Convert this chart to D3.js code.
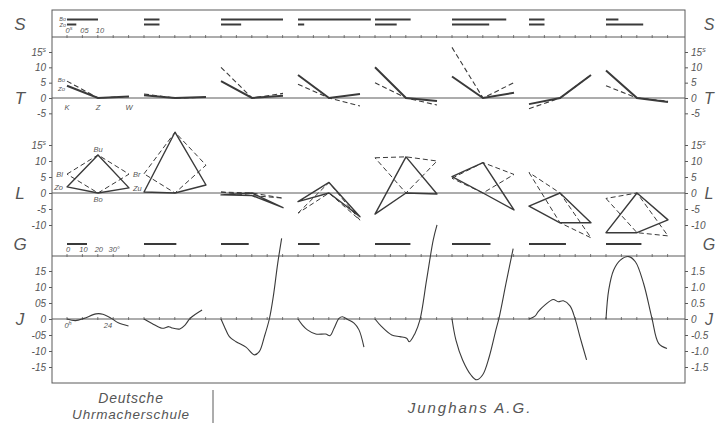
<!DOCTYPE html>
<html>
<head>
<meta charset="utf-8">
<script src="https://cdn.jsdelivr.net/npm/d3@7"></script>
<style>
  body { margin: 0; background: #fff; }
  text { font-family: "Liberation Sans", Arial, sans-serif; fill: #555; }
</style>
</head>
<body>
<script>
// eight watches: first two Deutsche Uhrmacherschule, the rest Junghans A.G.
const groups = [0, 1, 2, 3, 4, 5, 6, 7];

// S row: bar lengths in seconds (Bo upper, Zo lower)
const sBo = [1.0, 0.5, 2.0, 2.35, 1.15, 1.75, 0.5, 0.4];
const sZo = [0.3, 0.5, 0.65, 0.2, 0.7, 1.2, 0.5, 1.2];

// T panel: rate at K, Z, W (Bo dashed, Zo solid)
const tempPoints = ["K", "Z", "W"];
const tBo = [
  [5.5, 0, 0.5], [1.3, 0, 0.2], [10, 0, 1.5], [4.5, 0, -2.6],
  [5, 0, -2.3], [16.5, 0, 5], [-3.5, 0, 7.5], [4, 0, -1],
];
const tZo = [
  [4, 0, 0.5], [0.9, 0, 0.3], [5.5, 0, 0.7], [7.5, 0, 1.3],
  [10, 0, -1], [7, 0, 1.7], [-2, 0, 7.5], [9, 0, -1.3],
];

// L panel: position errors
const lPoints = ["left", "mid", "right"];
const lBo = [0, 0, 0, 0, 0, 0, 0, 0];
const lBu = [11.9, 19, -0.8, 3.3, 11.3, 9.5, -9.3, -12.4];
const lZo = [1.9, 0.3, -0.6, -2.7, -6.6, 5.1, -4.1, -12.4];
const lZu = [1.6, 2.5, -4.6, -7.4, -0.3, -5.3, -9.3, -8.4];
const lBl = [5.9, 6, 0.3, -6.3, 11, 4.6, 6.4, -1.7];
const lBr = [5.9, 8.7, -1.6, -8.5, 10, 5.8, -14, -13.4];

// G row: degrees
const gDeg = [13, 21, 18, 14, 23, 25, 24, 23];

// J panel: rate over running time (hours)
const jHours = [
  [0, 5, 10, 17, 21, 26, 30, 36],
  [0, 4.7, 10.5, 14.6, 16.4, 21, 24, 27, 34],
  [0, 2, 4.9, 8.8, 14.6, 19.5, 22.4, 25.4, 28.3, 30.6, 33.2, 35.5],
  [0, 2.6, 5.5, 10.4, 16.2, 18.7, 21.1, 24, 26, 28.9, 32.8, 35.7, 38.6],
  [0, 3.9, 9.8, 14.6, 18.5, 20.1, 23.4, 26.3, 30.2, 34.1, 36.3],
  [0, 2.3, 6.2, 11.1, 14.4, 17.9, 21.8, 25.7, 27.7, 31.6, 35.8],
  [0, 3.5, 5.4, 9.4, 14.2, 17.1, 20.1, 24, 26.9, 29.8, 33.7],
  [0, 1.6, 4.5, 8.4, 13.3, 17.2, 22, 26.9, 30.8, 35.7],
];
const jRate = [
  [0, -0.05, 0.02, 0.16, 0.15, 0.02, -0.12, -0.22],
  [0, -0.14, -0.29, -0.24, -0.28, -0.31, -0.19, 0.02, 0.28],
  [0, -0.24, -0.55, -0.71, -0.88, -1.12, -1.02, -0.55, 0, 0.7, 1.74, 2.52],
  [0, -0.19, -0.34, -0.47, -0.47, -0.52, -0.29, 0.02, 0.07, -0.01, -0.13, -0.34, -0.88],
  [0, -0.24, -0.5, -0.55, -0.6, -0.71, -0.45, -0.03, 1.22, 2.47, 2.94],
  [0, -0.66, -1.28, -1.75, -1.9, -1.75, -1.18, -0.34, 0.07, 1.11, 2.2],
  [0, 0.09, 0.23, 0.44, 0.61, 0.54, 0.57, 0.41, 0.02, -0.55, -1.28],
  [0, 0.91, 1.53, 1.84, 1.95, 1.79, 1.11, 0.02, -0.76, -0.92],
];

// tick values and labels
const tTicks = [15, 10, 5, 0, -5];
const lTicks = [15, 10, 5, 0, -5, -10];
const jTicks = [1.5, 1, 0.5, 0, -0.5, -1, -1.5];
const sLegend = [0, 0.5, 1];
const sLegendLabels = ["0", "05", "10"];
const gLegend = [0, 10, 20, 30];
const gLegendLabels = ["0", "10", "20", "30°"];
const lLabels = { Bu: "Bu", Bo: "Bo", Bl: "Bl", Br: "Br", Zo: "Zo", Zu: "Zu" };

// canvas
const width = 717;
const height = 423;
const padL = 52;
const padR = 685;
const padT = 10;
const padB = 383;
const sepS = 37;
const sepG = 256;
const ink = "#3a3a3a";
const frame = "#5a5a5a";

const svg = d3
  .select("body")
  .append("svg")
  .attr("width", width)
  .attr("height", height);

// scales
const groupX = d3.scaleLinear().domain([0, 1]).range([67, 144]);
const sX = d3.scaleLinear().domain([0, 1]).range([0, 31]);
const tX = d3.scalePoint().domain(tempPoints).range([0, 62]);
const lX = d3.scalePoint().domain(lPoints).range([0, 62]);
const gX = d3.scaleLinear().domain([0, 10]).range([0, 15.4]);
const jX = d3.scaleLinear().domain([0, 24]).range([0, 41]);
const tY = d3.scaleLinear().domain([0, 15]).range([98, 52]);
const lY = d3.scaleLinear().domain([0, 15]).range([193, 145]);
const jY = d3.scaleLinear().domain([0, 1.5]).range([319, 271]);

// frame and horizontal lines
svg
  .append("rect")
  .attr("x", padL)
  .attr("y", padT)
  .attr("width", padR - padL)
  .attr("height", padB - padT)
  .attr("fill", "none")
  .attr("stroke", frame)
  .attr("stroke-width", 1);

[sepS, sepG, tY(0), lY(0), jY(0)].forEach(function (y) {
  svg
    .append("line")
    .attr("x1", padL)
    .attr("x2", padR)
    .attr("y1", y)
    .attr("y2", y)
    .attr("stroke", frame)
    .attr("stroke-width", 1);
});

// little ticks on the separators
const sepTicks = d3.range(0, 40).map((k) => groupX(0) + k * 15.4);
[sepS, sepG, jY(0)].forEach(function (y) {
  svg
    .append("g")
    .selectAll("line")
    .data(sepTicks)
    .enter()
    .append("line")
    .attr("x1", (d) => d)
    .attr("x2", (d) => d)
    .attr("y1", y - 2)
    .attr("y2", y + 1)
    .attr("stroke", frame)
    .attr("stroke-width", 0.8);
});

// axes
function styleAxis(g) {
  g.select(".domain").remove();
  g.selectAll("line").attr("stroke", frame);
  g.selectAll("text")
    .attr("font-family", "Liberation Sans, Arial, sans-serif")
    .attr("font-style", "italic")
    .attr("font-size", 10)
    .attr("fill", "#555");
}
function addSup(g, value, sup) {
  g.selectAll(".tick text")
    .filter((d) => d === value)
    .append("tspan")
    .attr("dy", -4)
    .attr("font-size", 7)
    .text(sup);
}
const fmtPlain = (d) => (d < 0 ? "-" : "") + Math.abs(d);
const fmtJLeft = (d) =>
  d === 0 ? "0" : (d < 0 ? "-" : "") + String(Math.round(Math.abs(d) * 10)).padStart(2, "0");
const fmtJRight = (d) => (d === 0 ? "0" : (d < 0 ? "-" : "") + Math.abs(d).toFixed(1));

[
  [tY, tTicks, fmtPlain, fmtPlain, true],
  [lY, lTicks, fmtPlain, fmtPlain, true],
  [jY, jTicks, fmtJLeft, fmtJRight, false],
].forEach(function ([scale, ticks, fl, fr, sup]) {
  const gl = svg
    .append("g")
    .attr("transform", "translate(" + padL + ",0)")
    .call(d3.axisLeft(scale).tickValues(ticks).tickSize(3).tickPadding(3).tickFormat(fl))
    .call(styleAxis);
  const gr = svg
    .append("g")
    .attr("transform", "translate(" + padR + ",0)")
    .call(d3.axisRight(scale).tickValues(ticks).tickSize(3).tickPadding(3).tickFormat(fr))
    .call(styleAxis);
  if (sup) {
    addSup(gl, 15, "s");
    addSup(gr, 15, "s");
  }
});

// panel letters
const letters = [
  ["S", 24],
  ["T", tY(0)],
  ["L", lY(0)],
  ["G", 244],
  ["J", jY(0)],
];
letters.forEach(function ([t, y]) {
  svg.append("text").attr("x", 20).attr("y", y + 6).attr("text-anchor", "middle")
    .attr("font-size", 17).attr("font-style", "italic").text(t);
  svg.append("text").attr("x", 709).attr("y", y + 6).attr("text-anchor", "middle")
    .attr("font-size", 16).attr("font-style", "italic").text(t);
});

// S row bars
const sRow = svg.append("g");
groups.forEach(function (g) {
  const x0 = groupX(g);
  [[sBo, 19.5], [sZo, 24.5]].forEach(function ([vals, y]) {
    sRow
      .append("line")
      .attr("x1", x0 + sX(0))
      .attr("x2", x0 + sX(vals[g]))
      .attr("y1", y)
      .attr("y2", y)
      .attr("stroke", ink)
      .attr("stroke-width", 2);
  });
});

// T panel lines
const tLine = d3
  .line()
  .x((d, i) => tX(tempPoints[i]))
  .y((d) => tY(d));
groups.forEach(function (g) {
  const gg = svg.append("g").attr("transform", "translate(" + groupX(g) + ",0)");
  gg.append("path")
    .attr("d", tLine(tBo[g]))
    .attr("fill", "none")
    .attr("stroke", ink)
    .attr("stroke-width", 1.1)
    .attr("stroke-dasharray", "5,3");
  gg.append("path")
    .attr("d", tLine(tZo[g]))
    .attr("fill", "none")
    .attr("stroke", ink)
    .attr("stroke-width", 2);
});

// L panel quadrilaterals
const lLine = d3
  .line()
  .x((d) => lX(d[0]))
  .y((d) => lY(d[1]))
  .curve(d3.curveLinearClosed);
groups.forEach(function (g) {
  const gg = svg.append("g").attr("transform", "translate(" + groupX(g) + ",0)");
  const dashed = [["left", lBl[g]], ["mid", lBu[g]], ["right", lBr[g]], ["mid", lBo[g]]];
  const solid = [["left", lZo[g]], ["mid", lBu[g]], ["right", lZu[g]], ["mid", lBo[g]]];
  gg.append("path")
    .attr("d", lLine(dashed))
    .attr("fill", "none")
    .attr("stroke", ink)
    .attr("stroke-width", 1)
    .attr("stroke-dasharray", "5,3");
  gg.append("path")
    .attr("d", lLine(solid))
    .attr("fill", "none")
    .attr("stroke", ink)
    .attr("stroke-width", 1.4)
    .attr("stroke-linejoin", "round");
});

// G row bars
groups.forEach(function (g) {
  const x0 = groupX(g);
  svg
    .append("line")
    .attr("x1", x0 + gX(0))
    .attr("x2", x0 + gX(gDeg[g]))
    .attr("y1", 244)
    .attr("y2", 244)
    .attr("stroke", ink)
    .attr("stroke-width", 2);
});

// J panel curves
const jLine = d3
  .line()
  .x((d) => jX(d[0]))
  .y((d) => jY(d[1]))
  .curve(d3.curveCatmullRom.alpha(0.5));
groups.forEach(function (g) {
  const pts = jHours[g].map((h, i) => [h, jRate[g][i]]);
  svg
    .append("path")
    .attr("transform", "translate(" + groupX(g) + ",0)")
    .attr("d", jLine(pts))
    .attr("fill", "none")
    .attr("stroke", ink)
    .attr("stroke-width", 1.1);
});

// small legend labels in the first group
const x0 = groupX(0);
function small(x, y, t, anchor, size) {
  return svg
    .append("text")
    .attr("x", x)
    .attr("y", y)
    .attr("text-anchor", anchor || "middle")
    .attr("font-size", size || 7.5)
    .attr("font-style", "italic")
    .text(t);
}
small(x0 - 1, 21, "Bo", "end", 5.5);
small(x0 - 1, 27, "Zo", "end", 5.5);
sLegend.forEach(function (v, i) {
  const t = small(x0 + sX(v) + 2, 33, sLegendLabels[i]);
  if (i === 0) t.append("tspan").attr("dy", -3).attr("font-size", 5.5).text("s");
});
small(x0 - 2, tY(5.5) + 1, "Bo", "end", 6);
small(x0 - 2, tY(3.5) + 4, "Zo", "end", 6);
tempPoints.forEach(function (p) {
  small(x0 + tX(p), 110, p);
});
small(x0 + lX("mid"), lY(lBu[0]) - 3, lLabels.Bu);
small(x0 + lX("mid"), lY(0) + 9, lLabels.Bo);
small(x0 + lX("left") - 4, lY(lBl[0]) + 3, lLabels.Bl, "end");
small(x0 + lX("left") - 4, lY(lZo[0]) + 3, lLabels.Zo, "end");
small(x0 + lX("right") + 4, lY(lBr[0]) + 3, lLabels.Br, "start");
small(x0 + lX("right") + 4, lY(lZu[0]) + 3, lLabels.Zu, "start");
gLegend.forEach(function (v, i) {
  small(x0 + gX(v) + 1, 252, gLegendLabels[i]);
});
small(x0 + jX(0) + 1, jY(0) + 9, "0").append("tspan").attr("dy", -3).attr("font-size", 5.5).text("h");
small(x0 + jX(24), jY(0) + 9, "24");

// bottom captions
svg.append("line")
  .attr("x1", 213).attr("x2", 213)
  .attr("y1", 390).attr("y2", 423)
  .attr("stroke", frame).attr("stroke-width", 1);
svg.append("text").attr("x", 131).attr("y", 403).attr("text-anchor", "middle")
  .attr("font-size", 14).attr("font-style", "italic").attr("letter-spacing", 0.8).text("Deutsche");
svg.append("text").attr("x", 131).attr("y", 419).attr("text-anchor", "middle")
  .attr("font-size", 13.5).attr("font-style", "italic").attr("letter-spacing", 0.8).text("Uhrmacherschule");
svg.append("text").attr("x", 470).attr("y", 413).attr("text-anchor", "middle")
  .attr("font-size", 15).attr("font-style", "italic").attr("letter-spacing", 2).text("Junghans A.G.");
</script>
</body>
</html>
